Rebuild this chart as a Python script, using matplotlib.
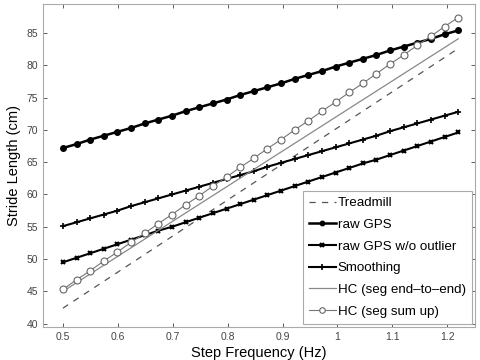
import numpy as np
import matplotlib.pyplot as plt

plt.rcParams['font.family'] = ['Liberation Sans', 'DejaVu Sans']

# step frequency (Hz) for the marker series
freq = np.linspace(0.5, 1.22, 30)

raw_gps = [67.2, 67.8, 68.5, 69.1, 69.7, 70.3, 71.0, 71.6, 72.2, 72.9,
           73.5, 74.1, 74.7, 75.4, 76.0, 76.6, 77.2, 77.9, 78.5, 79.1,
           79.8, 80.4, 81.0, 81.6, 82.3, 82.9, 83.5, 84.1, 84.8, 85.4]
raw_gps_no_outlier = [49.5, 50.2, 50.9, 51.6, 52.3, 53.0, 53.7, 54.4, 55.0, 55.7,
                      56.4, 57.1, 57.8, 58.5, 59.2, 59.9, 60.6, 61.3, 62.0, 62.7,
                      63.4, 64.1, 64.8, 65.4, 66.1, 66.8, 67.5, 68.2, 68.9, 69.6]
smoothing = [55.1, 55.7, 56.3, 56.9, 57.5, 58.2, 58.8, 59.4, 60.0, 60.6,
             61.2, 61.8, 62.4, 63.0, 63.6, 64.3, 64.9, 65.5, 66.1, 66.7,
             67.3, 67.9, 68.5, 69.1, 69.8, 70.4, 71.0, 71.6, 72.2, 72.8]
hc_sum_up = [45.3, 46.8, 48.2, 49.7, 51.1, 52.6, 54.0, 55.5, 56.9, 58.4,
             59.8, 61.3, 62.7, 64.2, 65.6, 67.1, 68.5, 70.0, 71.4, 72.9,
             74.3, 75.8, 77.2, 78.7, 80.2, 81.6, 83.1, 84.5, 86.0, 87.4]

# straight lines, given by their end points
line_freq = [0.5, 1.22]
treadmill = [42.4, 82.6]
hc_end_to_end = [45.0, 84.1]

fig = plt.figure(figsize=(4.8, 3.6), dpi=100)
ax = fig.add_axes([0.09, 0.092, 0.9, 0.897])

ax.plot(line_freq, treadmill, color='#555555', lw=0.9, ls=(0, (5, 5)), label='Treadmill')
ax.plot(freq, raw_gps, '-o', color='black', lw=1.8, ms=4, label='raw GPS')
ax.plot(freq, raw_gps_no_outlier, '-x', color='black', lw=1.5, ms=3.5, mew=1.5,
        label='raw GPS w/o outlier')
ax.plot(freq, smoothing, '-+', color='black', lw=1.5, ms=5, mew=1.2, label='Smoothing')
ax.plot(line_freq, hc_end_to_end, '-', color='#888888', lw=0.9,
        label='HC (seg end\u2013to\u2013end)')
ax.plot(freq, hc_sum_up, '-o', color='#777777', lw=0.8, ms=5, mfc='white',
        mec='#666666', mew=0.8, label='HC (seg sum up)')

ax.set_xlim(0.464, 1.251)
ax.set_ylim(39.5, 89.5)
ax.set_xticks([0.5, 0.6, 0.7, 0.8, 0.9, 1.0, 1.1, 1.2])
ax.set_xticklabels(['0.5', '0.6', '0.7', '0.8', '0.9', '1', '1.1', '1.2'])
ax.set_yticks([40, 45, 50, 55, 60, 65, 70, 75, 80, 85])

ax.tick_params(direction='in', top=True, right=True, labelsize=7.5,
               colors='#444444', length=3, width=0.6)
for s in ax.spines.values():
    s.set_color('#aaaaaa')
    s.set_linewidth(0.8)

ax.set_xlabel('Step Frequency (Hz)', fontsize=10.5, labelpad=3)
ax.set_ylabel('Stride Length (cm)', fontsize=10.5, labelpad=4)

leg = ax.legend(loc='lower right', fontsize=9.6, fancybox=False, framealpha=1,
                edgecolor='#aaaaaa', handlelength=2.0, labelspacing=0.7,
                borderaxespad=0.25, handletextpad=0.15, borderpad=0.45,
                markerscale=0.8)
leg.get_frame().set_linewidth(0.8)

fig.savefig('out.png', dpi=100)
